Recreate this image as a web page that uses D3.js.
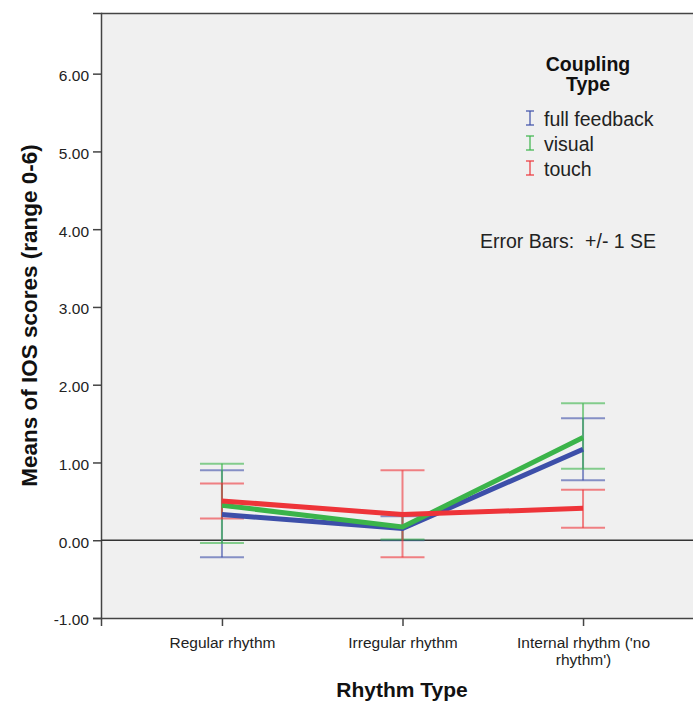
<!DOCTYPE html>
<html>
<head>
<meta charset="utf-8">
<script src="https://cdn.jsdelivr.net/npm/d3@7"></script>
<style>
  html, body { margin: 0; padding: 0; background: #ffffff; }
  svg { display: block; font-family: "Liberation Sans", Arial, sans-serif; }
</style>
</head>
<body>
<svg id="chart" width="693" height="704"></svg>
<script>
// ---- data ----
const categories = ["Regular rhythm", "Irregular rhythm", "Internal rhythm ('no rhythm')"];
const seriesNames = ["full feedback", "visual", "touch"];
const seriesColors = ["#3d4fa9", "#3bb44a", "#ee3439"];
const fullFeedbackMean = [0.33, 0.15, 1.17];
const fullFeedbackLow  = [-0.22, 0.00, 0.77];
const fullFeedbackHigh = [0.90, 0.31, 1.57];
const visualMean = [0.45, 0.17, 1.32];
const visualLow  = [-0.035, 0.01, 0.92];
const visualHigh = [0.985, 0.34, 1.76];
const touchMean = [0.505, 0.33, 0.41];
const touchLow  = [0.28, -0.22, 0.16];
const touchHigh = [0.73, 0.90, 0.65];
const yTicks = [-1, 0, 1, 2, 3, 4, 5, 6];
const yDomain = [-1, 6.78];

const series = [
  { name: seriesNames[0], color: seriesColors[0], mean: fullFeedbackMean, low: fullFeedbackLow, high: fullFeedbackHigh },
  { name: seriesNames[1], color: seriesColors[1], mean: visualMean, low: visualLow, high: visualHigh },
  { name: seriesNames[2], color: seriesColors[2], mean: touchMean, low: touchLow, high: touchHigh }
];

const FONT = "'Liberation Sans', Arial, sans-serif";
const svg = d3.select("#chart");
const plot = { left: 101, right: 704, top: 13, bottom: 618 };

const x = d3.scalePoint().domain(categories).range([plot.left, plot.right]).padding(0.67);
const y = d3.scaleLinear().domain(yDomain).range([plot.bottom, plot.top]);

// plot background
svg.append("rect")
  .attr("x", plot.left).attr("y", plot.top)
  .attr("width", plot.right - plot.left).attr("height", plot.bottom - plot.top)
  .attr("fill", "#f0f0f0");

// top border
svg.append("line")
  .attr("x1", plot.left).attr("x2", plot.right)
  .attr("y1", plot.top + 0.5).attr("y2", plot.top + 0.5)
  .attr("stroke", "#444").attr("stroke-width", 1.5);

// y axis
const fmt = d => d.toFixed(2);
const yAxis = d3.axisLeft(y).tickValues(yTicks).tickFormat(fmt).tickSize(8).tickPadding(4);
const gy = svg.append("g").attr("transform", `translate(${plot.left},0)`).call(yAxis);
gy.attr("font-family", FONT);
gy.select(".domain").attr("stroke", "#444").attr("stroke-width", 1.5);
gy.selectAll(".tick line").attr("stroke", "#444").attr("stroke-width", 1.5);
gy.selectAll(".tick text").attr("font-size", 15.5).attr("fill", "#222").attr("dy", "0.45em");

// x axis
const xAxis = d3.axisBottom(x).tickSize(8).tickPadding(6);
const gx = svg.append("g").attr("transform", `translate(0,${plot.bottom})`).call(xAxis);
gx.attr("font-family", FONT);
gx.select(".domain").attr("stroke", "#444").attr("stroke-width", 1.5);
gx.selectAll(".tick line").attr("stroke", "#444").attr("stroke-width", 1.5);
gx.selectAll(".tick text").attr("font-size", 15.5).attr("fill", "#222")
  .each(function (d) {
    const t = d3.select(this);
    const words = d.split(" ");
    const lines = [];
    let cur = "";
    const maxW = 150;
    const tmp = svg.append("text").attr("font-size", 15.5).attr("font-family", FONT);
    words.forEach(w => {
      const test = cur ? cur + " " + w : w;
      tmp.text(test);
      if (tmp.node().getComputedTextLength() > maxW && cur) { lines.push(cur); cur = w; }
      else cur = test;
    });
    lines.push(cur);
    tmp.remove();
    t.text(null);
    lines.forEach((ln, i) => {
      t.append("tspan").attr("x", 0).attr("dy", i === 0 ? "1.0em" : "1.1em").text(ln);
    });
  });

// zero reference line
svg.append("line")
  .attr("x1", plot.left).attr("x2", plot.right)
  .attr("y1", y(0)).attr("y2", y(0))
  .attr("stroke", "#333").attr("stroke-width", 1.5);

// error bars
const capHalf = 22;
series.forEach(s => {
  const g = svg.append("g").attr("stroke", s.color).attr("stroke-width", 2).attr("stroke-opacity", 0.6);
  categories.forEach((c, i) => {
    const cx = x(c);
    g.append("line").attr("x1", cx).attr("x2", cx).attr("y1", y(s.low[i])).attr("y2", y(s.high[i]));
    g.append("line").attr("x1", cx - capHalf).attr("x2", cx + capHalf).attr("y1", y(s.low[i])).attr("y2", y(s.low[i]));
    g.append("line").attr("x1", cx - capHalf).attr("x2", cx + capHalf).attr("y1", y(s.high[i])).attr("y2", y(s.high[i]));
  });
});

// mean lines
const line = d3.line().x((d, i) => x(categories[i])).y(d => y(d));
series.forEach(s => {
  svg.append("path").datum(s.mean)
    .attr("d", line)
    .attr("fill", "none")
    .attr("stroke", s.color)
    .attr("stroke-width", 5)
    .attr("stroke-linejoin", "miter");
});

// legend
const leg = svg.append("g");
leg.append("text").attr("x", 588).attr("y", 71).attr("text-anchor", "middle")
  .attr("font-weight", "bold").attr("font-size", 19.5).attr("fill", "#111").text("Coupling");
leg.append("text").attr("x", 588).attr("y", 91).attr("text-anchor", "middle")
  .attr("font-weight", "bold").attr("font-size", 19.5).attr("fill", "#111").text("Type");
series.forEach((s, i) => {
  const by = 126 + i * 25;
  const ig = leg.append("g").attr("stroke", s.color).attr("stroke-width", 1.5).attr("stroke-opacity", 0.8);
  ig.append("line").attr("x1", 530).attr("x2", 530).attr("y1", by - 15).attr("y2", by - 1);
  ig.append("line").attr("x1", 526).attr("x2", 534).attr("y1", by - 15).attr("y2", by - 15);
  ig.append("line").attr("x1", 526).attr("x2", 534).attr("y1", by - 1).attr("y2", by - 1);
  leg.append("text").attr("x", 544).attr("y", by).attr("font-size", 19.5).attr("fill", "#222").text(s.name);
});

svg.append("text").attr("x", 480).attr("y", 248).attr("font-size", 19.5).attr("fill", "#222")
  .attr("xml:space", "preserve").text("Error Bars:  +/- 1 SE");

// axis titles
svg.append("text").attr("x", 402).attr("y", 697).attr("text-anchor", "middle")
  .attr("font-weight", "bold").attr("font-size", 21).attr("fill", "#111").text("Rhythm Type");
svg.append("text").attr("transform", `translate(37,${(plot.top + plot.bottom) / 2}) rotate(-90)`)
  .attr("text-anchor", "middle").attr("font-weight", "bold").attr("font-size", 22.5).attr("fill", "#111")
  .text("Means of IOS scores (range 0-6)");
</script>
</body>
</html>
